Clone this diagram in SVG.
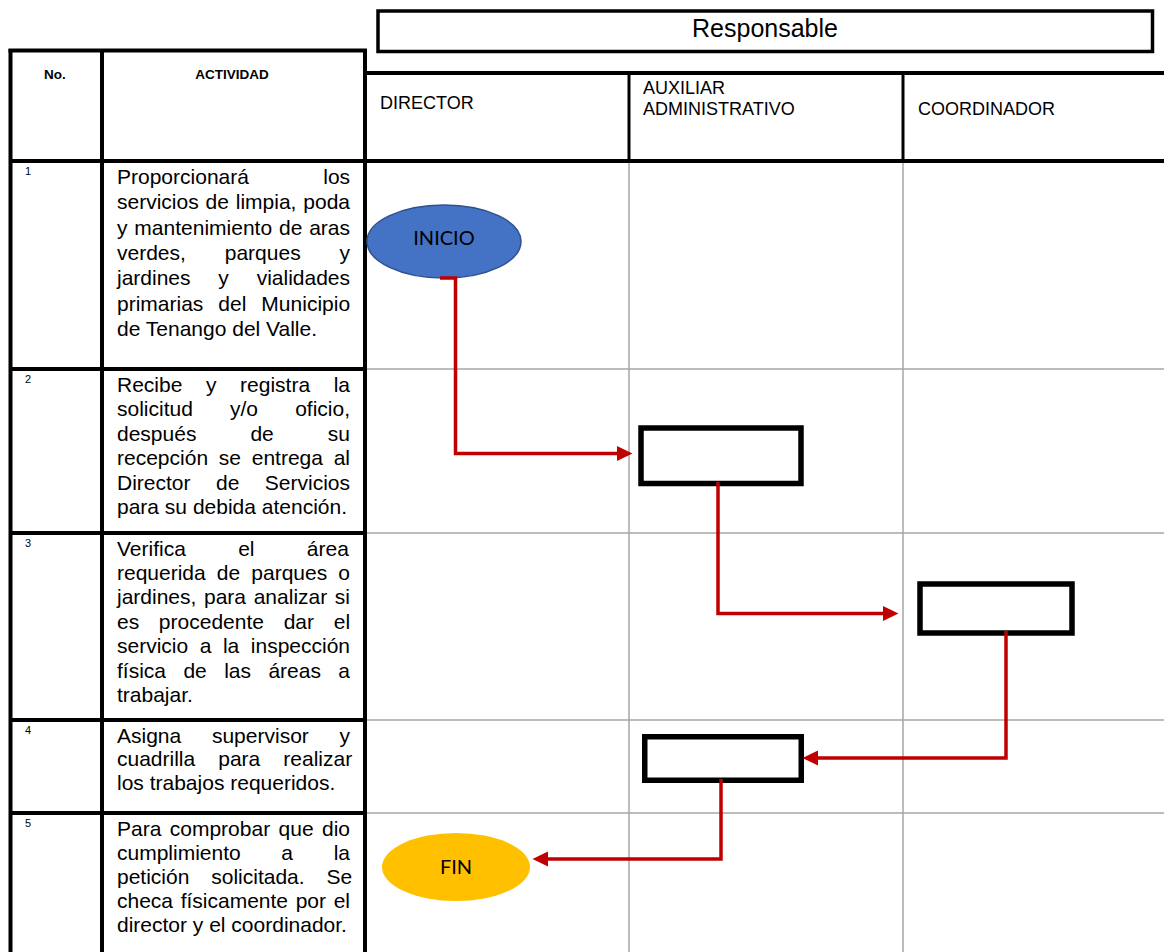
<svg xmlns="http://www.w3.org/2000/svg" width="1164" height="952" viewBox="0 0 1164 952">
  <style>
    .frame { stroke: #000; fill: none; }
    .grid { stroke: #A6A6A6; stroke-width: 1.5; fill: none; }
    .body { font-family: "Liberation Sans", Arial, sans-serif; font-size: 21px; fill: #000; }
    .num { font-family: "Liberation Sans", Arial, sans-serif; font-size: 11px; fill: #000; }
    .head { font-family: "Liberation Sans", Arial, sans-serif; font-size: 13.5px; font-weight: bold; fill: #000; }
    .lane { font-family: "Liberation Sans", Arial, sans-serif; font-size: 18px; fill: #000; }
    .term { font-family: Lato, "Open Sans", sans-serif; font-size: 20px; fill: #000; text-anchor: middle; }
    .step { fill: #fff; stroke: #000; stroke-width: 5.5; }
    .flow { fill: none; stroke: #C00000; stroke-width: 3.5; stroke-linejoin: miter; }
  </style>
  <defs>
    <marker id="arrow" markerUnits="userSpaceOnUse" viewBox="0 0 16 16" markerWidth="16" markerHeight="16" refX="6" refY="8" orient="auto">
      <path d="M0,0.5 L15.5,8 L0,15.5 z" fill="#C00000"/>
    </marker>
  </defs>

  <rect width="1164" height="952" fill="#fff"/>

  <!-- swimlane grid (body cells) -->
  <g id="lane-grid">
    <line class="grid" x1="629" y1="161" x2="629" y2="952"/>
    <line class="grid" x1="903" y1="161" x2="903" y2="952"/>
    <line class="grid" x1="367" y1="369" x2="1164" y2="369"/>
    <line class="grid" x1="367" y1="533" x2="1164" y2="533"/>
    <line class="grid" x1="367" y1="720" x2="1164" y2="720"/>
    <line class="grid" x1="367" y1="813" x2="1164" y2="813"/>
  </g>

  <!-- "Responsable" title box -->
  <g id="responsable">
    <rect class="frame" x="378" y="11" width="774.5" height="40.5" stroke-width="3.5"/>
    <text x="765" y="37" font-family="Liberation Sans, Arial, sans-serif" font-size="25" text-anchor="middle">Responsable</text>
  </g>

  <!-- lane headers -->
  <g id="lane-header">
    <line class="frame" x1="365" y1="73" x2="1164" y2="73" stroke-width="4"/>
    <line class="frame" x1="629" y1="73" x2="629" y2="161" stroke-width="3"/>
    <line class="frame" x1="903" y1="73" x2="903" y2="161" stroke-width="3"/>
    <text class="lane" x="380" y="108.5">DIRECTOR</text>
    <text class="lane" x="643" y="93.5">AUXILIAR</text>
    <text class="lane" x="643" y="114.5">ADMINISTRATIVO</text>
    <text class="lane" x="918" y="114.5">COORDINADOR</text>
  </g>

  <!-- activity table -->
  <g id="activity-table">
    <line class="frame" x1="8.5" y1="50.5" x2="367" y2="50.5" stroke-width="4"/>
    <line class="frame" x1="10.5" y1="49" x2="10.5" y2="952" stroke-width="4"/>
    <line class="frame" x1="102" y1="49" x2="102" y2="952" stroke-width="4"/>
    <line class="frame" x1="365" y1="49" x2="365" y2="952" stroke-width="4"/>
    <line class="frame" x1="9" y1="161" x2="1164" y2="161" stroke-width="4"/>
    <line class="frame" x1="9" y1="369" x2="367" y2="369" stroke-width="4"/>
    <line class="frame" x1="9" y1="533" x2="367" y2="533" stroke-width="4"/>
    <line class="frame" x1="9" y1="720" x2="367" y2="720" stroke-width="4"/>
    <line class="frame" x1="9" y1="813" x2="367" y2="813" stroke-width="4"/>

    <text class="head" x="44" y="79">No.</text>
    <text class="head" x="232" y="79" text-anchor="middle">ACTIVIDAD</text>

    <text class="num" x="25" y="175">1</text>
    <text class="num" x="25" y="383">2</text>
    <text class="num" x="25" y="547">3</text>
    <text class="num" x="25" y="734">4</text>
    <text class="num" x="25" y="827">5</text>

    <!-- row 1 -->
    <text class="body" x="117" y="184" word-spacing="68.5">Proporcionará los</text>
    <text class="body" x="117" y="209.3" word-spacing="1.03">servicios de limpia, poda</text>
    <text class="body" x="117" y="234.6" word-spacing="1.03">y mantenimiento de aras</text>
    <text class="body" x="117" y="259.9" word-spacing="33.06">verdes, parques y</text>
    <text class="body" x="117" y="285.2" word-spacing="21.96">jardines y vialidades</text>
    <text class="body" x="117" y="310.5" word-spacing="9.16">primarias del Municipio</text>
    <text class="body" x="117" y="335.8">de Tenango del Valle.</text>

    <!-- row 2 -->
    <text class="body" x="117" y="392" word-spacing="17.77">Recibe y registra la</text>
    <text class="body" x="117" y="416.4" word-spacing="31.3">solicitud y/o oficio,</text>
    <text class="body" x="117" y="440.8" word-spacing="48.2">después de su</text>
    <text class="body" x="117" y="465.2" word-spacing="4.9">recepción se entrega al</text>
    <text class="body" x="117" y="489.6" word-spacing="19.66">Director de Servicios</text>
    <text class="body" x="117" y="514">para su debida atención.</text>

    <!-- row 3 -->
    <text class="body" x="117" y="555.5" word-spacing="46.46">Verifica el área</text>
    <text class="body" x="117" y="579.9" word-spacing="5.29">requerida de parques o</text>
    <text class="body" x="117" y="604.3" word-spacing="1.8">jardines, para analizar si</text>
    <text class="body" x="117" y="628.7" word-spacing="13.86">es procedente dar el</text>
    <text class="body" x="117" y="653.1" word-spacing="5.7">servicio a la inspección</text>
    <text class="body" x="117" y="677.5" word-spacing="11.56">física de las áreas a</text>
    <text class="body" x="117" y="701.9">trabajar.</text>

    <!-- row 4 -->
    <text class="body" x="117" y="742.5" word-spacing="24.9">Asigna supervisor y</text>
    <text class="body" x="117" y="766.4" word-spacing="17.2">cuadrilla para realizar</text>
    <text class="body" x="117" y="790.3">los trabajos requeridos.</text>

    <!-- row 5 -->
    <text class="body" x="117" y="835.5" word-spacing="2.56">Para comprobar que dio</text>
    <text class="body" x="117" y="859.7" word-spacing="34.8">cumplimiento a la</text>
    <text class="body" x="117" y="883.9" word-spacing="16.0">petición solicitada. Se</text>
    <text class="body" x="117" y="908.1" word-spacing="1.79">checa físicamente por el</text>
    <text class="body" x="117" y="932.3">director y el coordinador.</text>
  </g>

  <!-- flow nodes -->
  <g id="inicio">
    <ellipse cx="444" cy="241.5" rx="77" ry="36.5" fill="#4472C4" stroke="#2F528F" stroke-width="1.5"/>
    <text class="term" x="444" y="244.5">INICIO</text>
  </g>
  <g id="paso-recepcion">
    <rect class="step" x="641" y="428" width="160" height="55.5"/>
  </g>
  <g id="paso-verificacion">
    <rect class="step" x="920" y="584" width="152" height="49"/>
  </g>
  <g id="paso-asignacion">
    <rect class="step" x="644.75" y="736.75" width="156.5" height="43.5"/>
  </g>
  <g id="fin">
    <ellipse cx="456" cy="867" rx="74" ry="34" fill="#FFC000"/>
    <text class="term" x="456" y="873.5">FIN</text>
  </g>

  <!-- connectors -->
  <g id="connectors">
    <path class="flow" d="M440,278 H455.5 V453.5 H623" marker-end="url(#arrow)"/>
    <path class="flow" d="M718,482 V613.5 H889" marker-end="url(#arrow)"/>
    <path class="flow" d="M1006,631 V758 H812" marker-end="url(#arrow)"/>
    <path class="flow" d="M721,779 V859 H542" marker-end="url(#arrow)"/>
  </g>
</svg>
